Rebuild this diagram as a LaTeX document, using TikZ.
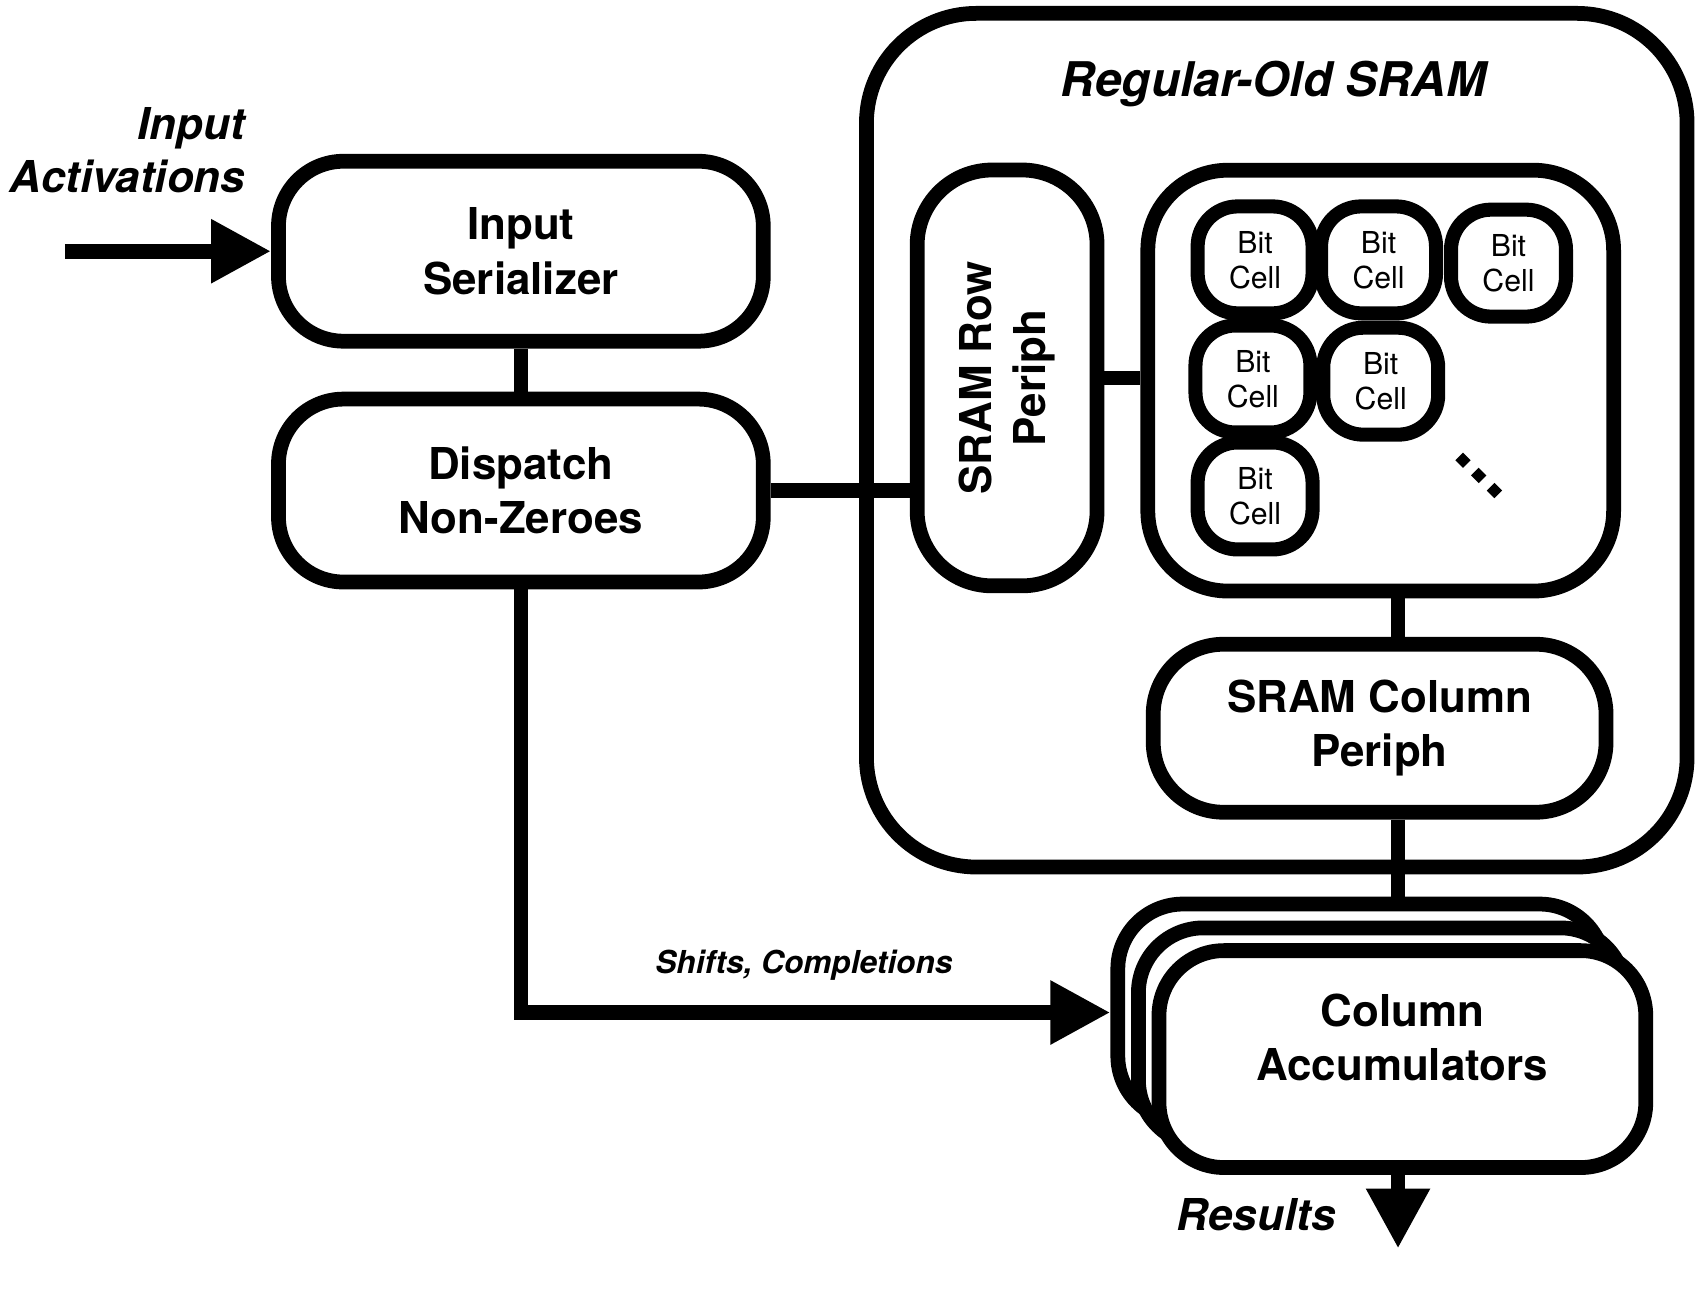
\documentclass[tikz,border=0pt]{standalone}
\usepackage{fontspec}
\setmainfont{TeX Gyre Heros}
\usetikzlibrary{arrows.meta}

\begin{document}
\begin{tikzpicture}[
    x=0.01083cm, y=-0.01083cm,
    box/.style={draw, line width=4.2pt, rounded corners=0.65cm, fill=white, align=center, inner sep=0pt, font=\bfseries\fontsize{12.5}{15.5}\selectfont},
    cell/.style={draw, line width=4pt, rounded corners=0.4cm, minimum width=1.15cm, minimum height=1.07cm, align=center, inner sep=0pt, font=\fontsize{8.6}{10}\selectfont},
    txt/.style={inner sep=0pt, align=center, font=\bfseries\fontsize{12.5}{15.5}\selectfont},
    lbl/.style={inner sep=0pt, font=\bfseries\itshape\fontsize{12.5}{15}\selectfont},
    wire/.style={line width=4.2pt},
    arrow/.style={wire, -{Triangle[length=0.6cm, width=0.6cm]}}
]
    \useasboundingbox (0,0) rectangle (1568,1202);

    % SRAM macro
    \node[box, rounded corners=1.1cm, minimum width=8.21cm, minimum height=8.54cm] (sram) at (1179,406.5) {};
    \node[lbl, font=\bfseries\itshape\fontsize{13.6}{15}\selectfont] (sramlbl) at (1176,78) {Regular-Old SRAM};

    % Input side
    \node[box, minimum width=4.85cm, minimum height=1.80cm] (inser) at (481,232) {Input\\Serializer};
    \node[box, minimum width=4.85cm, minimum height=1.83cm] (disp) at (481,453) {Dispatch\\Non-Zeroes};
    \node[lbl, align=right, anchor=east] (inlbl) at (227,139) {Input\\Activations};
    \coordinate (inp) at (60,232);

    % Periphery
    \node[box, rounded corners=0.75cm, minimum width=1.80cm, minimum height=4.16cm] (rowp) at (930,349) {};
    \node[txt, rotate=90] (rowptxt) at (rowp) {SRAM Row\\Periph};
    \node[box, rounded corners=0.7cm, minimum width=4.53cm, minimum height=1.68cm] (colp) at (1274,672.5) {SRAM Column\\Periph};

    % Bit cell array
    \node[box, rounded corners=0.8cm, minimum width=4.66cm, minimum height=4.21cm] (bits) at (1275,351.5) {};
    \node[cell] (c1) at (1159,240) {Bit\\Cell};
    \node[cell] (c2) at (1273,240) {Bit\\Cell};
    \node[cell] (c3) at (1393,243) {Bit\\Cell};
    \node[cell] (c4) at (1157,350) {Bit\\Cell};
    \node[cell] (c5) at (1275,352) {Bit\\Cell};
    \node[cell] (c6) at (1159,458) {Bit\\Cell};
    \foreach \d in {0,1,2}
        \fill[shift={(1351+14.5*\d,425+14*\d)}, rotate=45] (-5,-5) rectangle (5,5);

    % Accumulators
    \node[box, minimum width=4.87cm, minimum height=2.17cm] (accb) at (1257,935) {};
    \node[box, minimum width=4.87cm, minimum height=2.17cm] (accm) at (1276,957) {};
    \node[box, minimum width=4.87cm, minimum height=2.17cm] (accf) at (1295,978) {};
    \node[txt] (acctxt) at (1295,958) {Column\\Accumulators};
    \coordinate (res) at (1291,1153);
    \node[lbl] (reslbl) at (1160,1122) {Results};

    % Connections
    \draw[arrow] (inp) -- (inser.west);
    \draw[wire] (inser.south) -- (disp.north);
    \draw[wire] (disp.east) -- (disp.east -| rowp.west);
    \draw[wire] (rowp.east) -- (rowp.east -| bits.west);
    \draw[wire] (bits.south -| res) -- (colp.north -| res);
    \draw[wire] (colp.south -| res) -- (accb.north -| res);
    \draw[arrow] (disp.south) |- node[pos=0.74, above=0.25cm, lbl, font=\bfseries\itshape\fontsize{9}{11}\selectfont] {Shifts, Completions} (accb.west);
    \draw[arrow] (accf.south -| res) -- (res);

\end{tikzpicture}
\end{document}
